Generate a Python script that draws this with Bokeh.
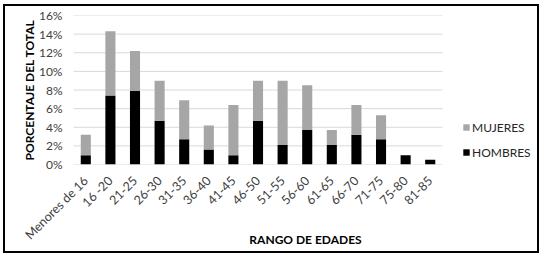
from bokeh.plotting import figure
from bokeh.models import ColumnDataSource, Legend, LegendItem, NumeralTickFormatter, FixedTicker
from bokeh.layouts import column
from bokeh.embed import file_html
from bokeh.resources import INLINE
import math

categories = ["Menores de 16", "16 -20", "21-25", "26-30", "31-35", "36-40", "41-45",
              "46-50", "51-55", "56-60", "61-65", "66-70", "71-75", "75-80", "81-85"]
total = [3.2, 14.3, 12.2, 9.0, 6.9, 4.2, 6.4, 9.0, 9.0, 8.5, 3.7, 6.4, 5.3, 1.0, 0.5]
hombres = [1.0, 7.4, 7.9, 4.7, 2.7, 1.6, 1.0, 4.7, 2.1, 3.7, 2.1, 3.2, 2.7, 1.0, 0.5]
mujeres = [round(t - h, 2) for t, h in zip(total, hombres)]
y_ticks = [0, 2, 4, 6, 8, 10, 12, 14, 16]

FONT = "Lato"
N = len(categories)
xpos = [i + 0.5 for i in range(N)]

src = ColumnDataSource(dict(x=xpos,
                            HOMBRES=[v / 100 for v in hombres],
                            MUJERES=[v / 100 for v in mujeres]))

# frame spans plot area plus the legend zone on the right
p = figure(x_range=(0, N + 3.86), y_range=(0, 0.16), width=532, height=245,
           output_backend="svg", toolbar_location=None,
           min_border_left=68, min_border_right=0, min_border_top=9, min_border_bottom=87)
p.outline_line_color = None
p.background_fill_color = "white"
p.border_fill_color = "white"

# horizontal gridlines over the category area only
gy = [t / 100 for t in y_ticks]
p.segment(x0=[0] * len(gy), x1=[N] * len(gy), y0=gy, y1=gy, line_color="#d9d9d9", line_width=1)

rs = p.vbar_stack(["HOMBRES", "MUJERES"], x="x", width=0.41, source=src,
                  color=["#000000", "#a6a6a6"], line_color=None)

p.xgrid.grid_line_color = None
p.ygrid.grid_line_color = None
p.yaxis.ticker = FixedTicker(ticks=gy)
p.yaxis.formatter = NumeralTickFormatter(format="0%")
p.xaxis.ticker = FixedTicker(ticks=xpos)
p.xaxis.major_label_overrides = {x: c for x, c in zip(xpos, categories)}

for ax in (p.xaxis[0], p.yaxis[0]):
    ax.axis_line_color = None
    ax.major_tick_line_color = None
    ax.minor_tick_line_color = None
    ax.major_tick_out = 0
    ax.major_tick_in = 0
    ax.minor_tick_out = 0
    ax.minor_tick_in = 0
    ax.major_label_text_font = FONT
    ax.major_label_text_font_size = "12px"
    ax.major_label_text_color = "#404040"
    ax.axis_label_text_font = FONT
    ax.axis_label_text_font_size = "12px"
    ax.axis_label_text_font_style = "bold"
    ax.axis_label_text_color = "#000000"

p.yaxis.major_label_standoff = 11
p.yaxis.axis_label = "PORCENTAJE DEL TOTAL"
p.yaxis.axis_label_standoff = -1

p.xaxis.major_label_orientation = math.pi / 4
p.xaxis.major_label_text_font_size = "12.5px"
p.xaxis.major_label_standoff = 14
p.xaxis.axis_label = "RANGO DE EDADES"
p.xaxis.axis_label_standoff = -19

legend = Legend(items=[LegendItem(label="MUJERES", renderers=[rs[1]]),
                       LegendItem(label="HOMBRES", renderers=[rs[0]])],
                location=(389, 2), glyph_width=8, glyph_height=8, label_standoff=2,
                label_height=20, spacing=5, padding=0, margin=0,
                border_line_color=None, background_fill_alpha=0,
                label_text_font=FONT, label_text_font_size="12px", label_text_color="#262626")
p.add_layout(legend, "center")

layout = column(p, styles={"border": "2px solid black", "margin-left": "3px", "margin-top": "4px"})

open("out.html", "w").write(file_html(layout, INLINE))
